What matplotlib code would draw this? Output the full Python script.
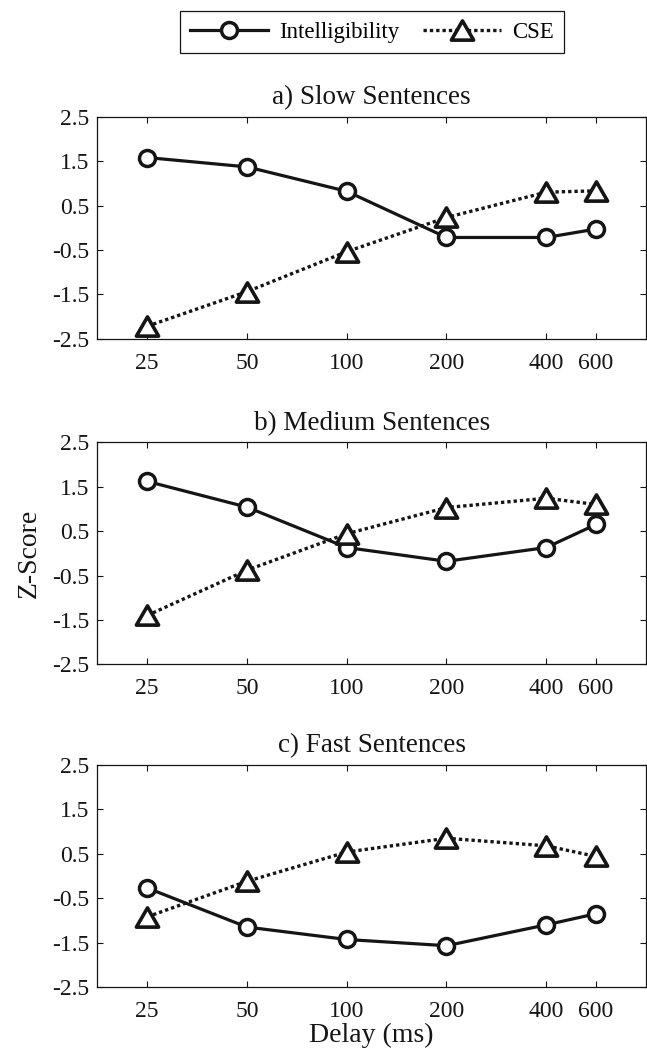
import matplotlib
matplotlib.use('Agg')
import matplotlib.pyplot as plt
from matplotlib.path import Path

plt.rcParams['font.family'] = ['Liberation Serif', 'DejaVu Serif']
plt.rcParams['font.size'] = 17
plt.rcParams['axes.linewidth'] = 0.9

delays = ['25', '50', '100', '200', '400', '600']
# 400 and 600 sit half a step apart on the original axis
positions = [1, 2, 3, 4, 5, 5.5]

titles = ['a) Slow Sentences', 'b) Medium Sentences', 'c) Fast Sentences']

intel_slow = [1.58, 1.37, 0.82, -0.22, -0.22, -0.03]
cse_slow = [-2.22, -1.44, -0.54, 0.23, 0.80, 0.83]

intel_medium = [1.62, 1.04, 0.13, -0.18, 0.13, 0.65]
cse_medium = [-1.40, -0.38, 0.44, 1.03, 1.24, 1.10]

intel_fast = [-0.27, -1.15, -1.43, -1.57, -1.10, -0.85]
cse_fast = [-0.92, -0.12, 0.54, 0.85, 0.68, 0.44]

yticks = [-2.5, -1.5, -0.5, 0.5, 1.5, 2.5]

intel = [intel_slow, intel_medium, intel_fast]
cse = [cse_slow, cse_medium, cse_fast]

ink = '#151515'

# equilateral triangle, centred on its bounding box
tri = Path([(-1, -0.866), (1, -0.866), (0, 0.866), (-1, -0.866)],
           [Path.MOVETO, Path.LINETO, Path.LINETO, Path.CLOSEPOLY])

fig = plt.figure(figsize=(6.47, 10.57), dpi=100)
W, H = 647, 1057
tops = [116.7, 442.3, 765.0]
ax_h = 222.0
left, right = 97.3, 646.0

axes = []
for i in range(3):
    ax = fig.add_axes([left / W, 1 - (tops[i] + ax_h) / H, (right - left) / W, ax_h / H])
    l1, = ax.plot(positions, intel[i], '-', color=ink, lw=2.3,
                  marker='o', ms=11.5, mew=2.5, mfc='white', mec=ink,
                  label='Intelligibility')
    l2, = ax.plot(positions, cse[i], color=ink, lw=2.4, linestyle=(0, (1, 0.9)),
                  marker=tri, ms=16, mew=2.6, mfc='white', mec=ink,
                  label='CSE')
    ax.set_xlim(0.5, 6.0)
    ax.set_ylim(-2.5, 2.5)
    ax.set_xticks(positions)
    ax.set_xticklabels(delays)
    ax.set_yticks(yticks)
    ax.set_yticklabels([str(v) for v in yticks])
    ax.tick_params(direction='in', length=4, width=0.8, top=True, right=True,
                   color=ink, labelcolor=ink)
    ax.tick_params(axis='x', pad=10)
    ax.tick_params(axis='y', pad=6)
    for s in ax.spines.values():
        s.set_color(ink)
    ax.set_title(titles[i], fontsize=19.5, pad=9, color=ink)
    axes.append(ax)

axes[1].set_ylabel('Z-Score', fontsize=20, color=ink, labelpad=7)
axes[2].set_xlabel('Delay (ms)', fontsize=20, color=ink, labelpad=1)

leg = fig.legend(handles=[l1, l2], loc='center', ncol=2,
                 bbox_to_anchor=(372 / W, 1 - 32 / H), handlelength=3.4,
                 columnspacing=1.0, handletextpad=0.5, frameon=True,
                 fancybox=False, edgecolor=ink, framealpha=1, fontsize=16.5,
                 borderpad=0.45)
leg.get_frame().set_linewidth(0.9)

fig.savefig('out.png', dpi=100)
